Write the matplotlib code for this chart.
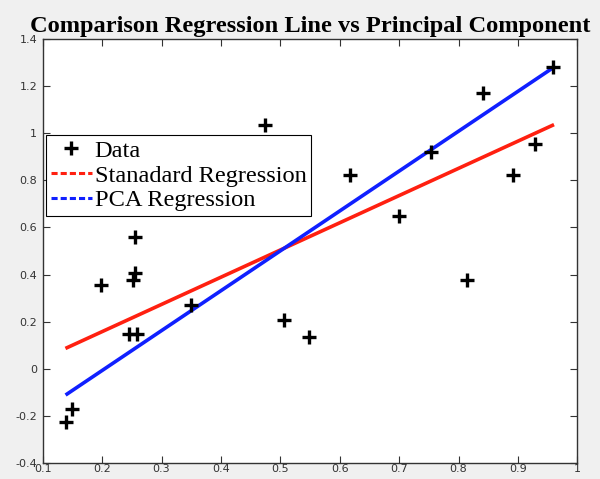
import matplotlib.pyplot as plt
from matplotlib.lines import Line2D

# data points
data_x = [0.139, 0.149, 0.198, 0.246, 0.259, 0.252, 0.256, 0.256, 0.350, 0.475,
          0.506, 0.548, 0.617, 0.700, 0.753, 0.815, 0.842, 0.892, 0.929, 0.959]
data_y = [-0.227, -0.172, 0.355, 0.147, 0.147, 0.377, 0.406, 0.560, 0.270, 1.035,
          0.207, 0.133, 0.823, 0.650, 0.922, 0.377, 1.170, 0.823, 0.954, 1.281]

# fitted line end points
line_x = [0.141, 0.958]
reg_y = [0.089, 1.034]
pca_y = [-0.108, 1.277]

x_ticks = [0.1, 0.2, 0.3, 0.4, 0.5, 0.6, 0.7, 0.8, 0.9, 1.0]
x_labels = ['0.1', '0.2', '0.3', '0.4', '0.5', '0.6', '0.7', '0.8', '0.9', '1']
y_ticks = [-0.4, -0.2, 0, 0.2, 0.4, 0.6, 0.8, 1.0, 1.2, 1.4]
y_labels = ['-0.4', '-0.2', '0', '0.2', '0.4', '0.6', '0.8', '1', '1.2', '1.4']

fig = plt.figure(figsize=(6, 4.79), dpi=100, facecolor='#f0f0f0')
ax = fig.add_axes([0.0712, 0.034, 0.8910, 0.884])

ax.plot(data_x, data_y, '+', color='black', markersize=10, mew=2.4, zorder=3)
ax.plot(line_x, reg_y, '-', color='#ff2010', lw=2.6)
ax.plot(line_x, pca_y, '-', color='#1020ff', lw=2.6)

ax.set_xlim(0.1, 1.0)
ax.set_ylim(-0.4, 1.4)
ax.set_xticks(x_ticks)
ax.set_xticklabels(x_labels)
ax.set_yticks(y_ticks)
ax.set_yticklabels(y_labels)
ax.tick_params(direction='in', length=5, width=0.8, color='#333333',
               labelsize=8, labelcolor='#333333', top=True, right=True)
ax.tick_params(axis='x', pad=1)
ax.tick_params(axis='y', pad=4)
for s in ax.spines.values():
    s.set_color('#333333')
    s.set_linewidth(1.0)

ax.set_title('Comparison Regression Line vs Principal Component',
             fontfamily='Liberation Serif', fontweight='bold', fontsize=17.6, pad=5)

handles = [
    Line2D([], [], ls='none', marker='+', color='black', markersize=10, mew=2.4),
    Line2D([], [], ls=(0, (2, 1)), color='#ff2010', lw=2.2),
    Line2D([], [], ls=(0, (2, 1)), color='#1020ff', lw=2.2),
]
leg = ax.legend(handles, ['Data', 'Stanadard Regression', 'PCA Regression'],
                loc='upper left', bbox_to_anchor=(0.0056, 0.774), borderaxespad=0,
                fancybox=False, framealpha=1, edgecolor='black',
                prop={'family': 'Liberation Serif', 'size': 17.6},
                handlelength=1.7, handletextpad=0.1, labelspacing=0.1,
                borderpad=0.2)
leg.get_frame().set_linewidth(0.8)

fig.savefig('out.png', dpi=100, facecolor=fig.get_facecolor())
